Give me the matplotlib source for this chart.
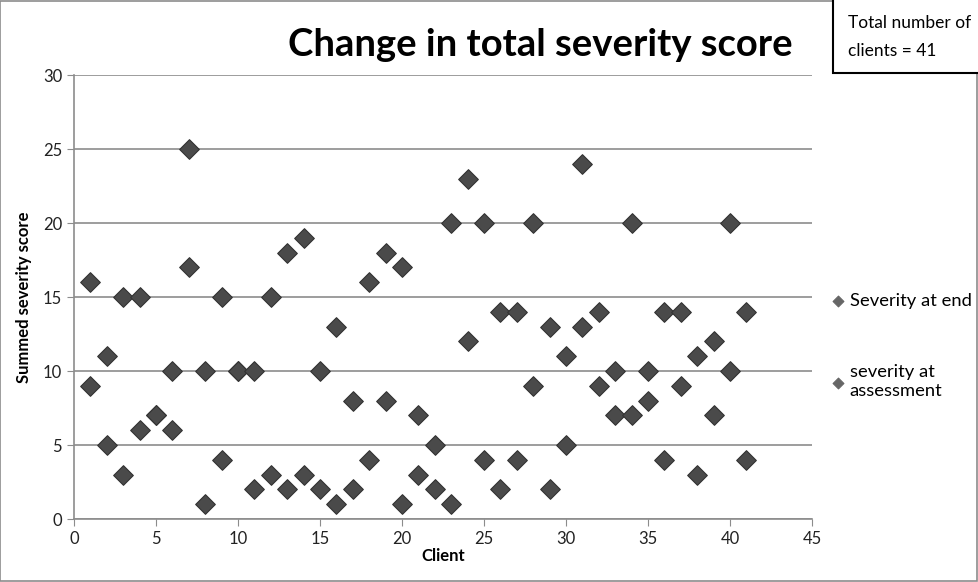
import numpy as np
import matplotlib.pyplot as plt
from matplotlib.patches import Rectangle

plt.rcParams['font.family'] = ['Lato', 'DejaVu Sans']

clients = list(range(1, 42))
severity_end = [9, 5, 3, 6, 7, 6, 17, 1, 4, 10, 2, 3, 2, 3, 2, 1, 2, 4, 8, 1,
                3, 2, 1, 12, 4, 2, 4, 9, 2, 5, 13, 9, 7, 7, 8, 4, 9, 3, 7, 10, 4]
severity_assess = [16, 11, 15, 15, 7, 10, 25, 10, 15, 10, 10, 15, 18, 19, 10, 13, 8, 16, 18, 17,
                   7, 5, 20, 23, 20, 14, 14, 20, 13, 11, 24, 14, 10, 20, 10, 14, 14, 11, 12, 20, 14]
x_ticks = np.arange(0, 46, 5)
y_ticks = np.arange(0, 31, 5)

fig = plt.figure(figsize=(9.79, 5.82), dpi=100)
ax = fig.add_axes([0.0756, 0.1082, 0.7538, 0.7629])

mk = dict(marker='D', s=100, color='#4a4a4a', edgecolors='#333333', linewidths=0.8, zorder=3)
ax.scatter(clients, severity_end, label='Severity at end', **mk)
ax.scatter(clients, severity_assess, label='severity at\nassessment', **mk)

ax.set_xlim(0, 45)
ax.set_ylim(0, 30)
ax.set_xticks(x_ticks)
ax.set_yticks(y_ticks)
ax.yaxis.grid(color='#8c8c8c', linewidth=1.2)
ax.set_axisbelow(True)
for s in ['top', 'right']:
    ax.spines[s].set_visible(False)
for s in ['left', 'bottom']:
    ax.spines[s].set_color('#8c8c8c')
    ax.spines[s].set_linewidth(1.2)
ax.tick_params(axis='both', labelsize=12, colors='#8c8c8c', labelcolor='#222222',
               direction='out', length=5)

ax.set_xlabel('Client', fontsize=12, fontweight='bold', labelpad=1)
ax.set_ylabel('Summed severity score', fontsize=12, fontweight='bold', labelpad=8)

fig.text(0.552, 0.922, 'Change in total severity score', fontsize=27.5, fontweight='bold',
         ha='center', va='center')

leg = ax.legend(loc='center left', bbox_to_anchor=(1.0, 0.39), frameon=False, fontsize=13.2,
                handletextpad=0.15, labelspacing=3.0, markerscale=0.55, handlelength=1.0)
for h in leg.legend_handles:
    h.set_color('#666666')

fig.patches.append(Rectangle((0.851, 0.8746), 0.16, 0.14, transform=fig.transFigure,
                             facecolor='white', edgecolor='black', linewidth=1.5, zorder=5))
fig.text(0.866, 0.936, 'Total number of\nclients = 41', fontsize=12.5, ha='left', va='center',
         linespacing=1.9, zorder=6)

fig.patches.append(Rectangle((0.0, 0.002), 0.998, 0.996, transform=fig.transFigure,
                             facecolor='none', edgecolor='#8c8c8c', linewidth=1.2))

fig.savefig('out.png', dpi=100)
